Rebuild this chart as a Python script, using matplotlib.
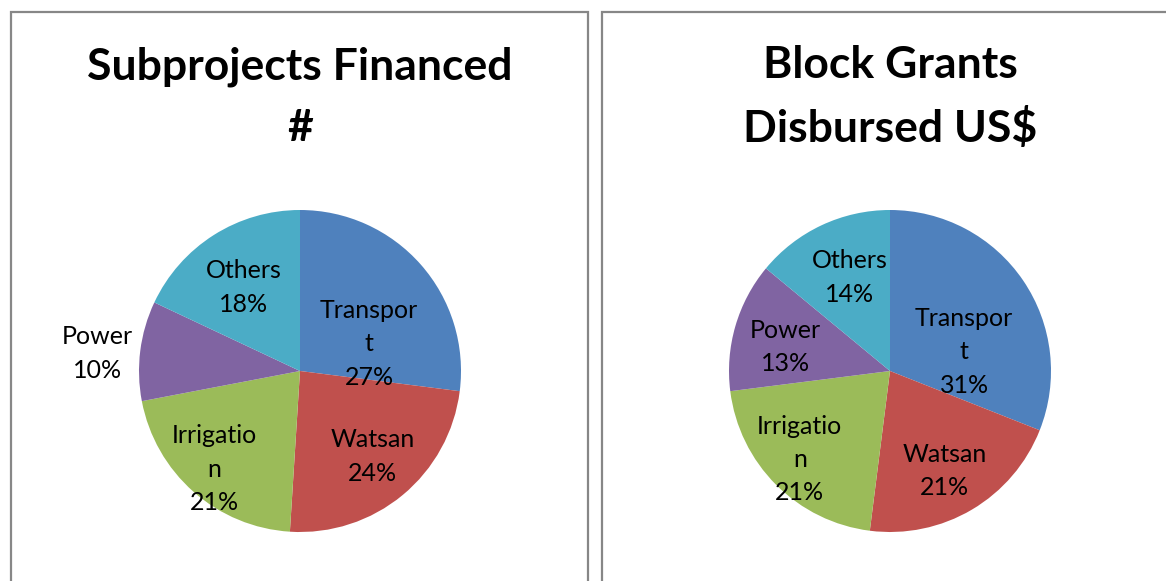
import matplotlib
matplotlib.use("Agg")
import matplotlib.pyplot as plt
from matplotlib.patches import Rectangle

plt.rcParams['font.family'] = ['Lato', 'DejaVu Sans']

# ---- data ----
categories = ["Transport", "Watsan", "Irrigation", "Power", "Others"]
subprojects_pct = [27, 24, 21, 10, 18]
grants_pct = [31, 21, 21, 13, 14]
subprojects_labels = ["Transpor\nt", "Watsan", "Irrigatio\nn", "Power", "Others"]
grants_labels = ["Transpor\nt", "Watsan", "Irrigatio\nn", "Power", "Others"]
titles = ["Subprojects Financed\n#", "Block Grants\nDisbursed US$"]

colors = ["#4F81BD", "#C0504D", "#9BBB59", "#8064A2", "#4BACC6"]

# label positions (in pie-radius units), styling only
pos1 = [(0.43, 0.17), (0.45, -0.53), (-0.53, -0.61), (-1.26, 0.11), (-0.35, 0.52)]
pos2 = [(0.46, 0.12), (0.34, -0.62), (-0.56, -0.55), (-0.65, 0.15), (-0.25, 0.58)]

W, H = 1166, 581
fig = plt.figure(figsize=(W / 100, H / 100), dpi=100)

# panel borders
border = "#878787"
fig.patches.append(Rectangle((10.5 / W, -0.1), 577 / W, 1.1 - 12.5 / H,
                             transform=fig.transFigure, fill=False,
                             edgecolor=border, linewidth=1.6))
fig.patches.append(Rectangle((601.5 / W, -0.1), 1.0, 1.1 - 12.5 / H,
                             transform=fig.transFigure, fill=False,
                             edgecolor=border, linewidth=1.6))

R = 161
panels = [
    (300, 371, subprojects_pct, subprojects_labels, pos1, titles[0]),
    (890, 371, grants_pct, grants_labels, pos2, titles[1]),
]
for cx, cy, vals, labs, pos, title in panels:
    ax = fig.add_axes([(cx - R) / W, (H - cy - R) / H, 2 * R / W, 2 * R / H])
    ax.pie(vals, colors=colors, startangle=90, counterclock=False, radius=1,
           wedgeprops=dict(linewidth=0))
    ax.set_xlim(-1, 1)
    ax.set_ylim(-1, 1)
    ax.set_aspect('auto')
    ax.axis('off')
    for v, lab, (x, y) in zip(vals, labs, pos):
        ax.text(x, y, f"{lab}\n{v}%", ha='center', va='center', fontsize=18,
                linespacing=1.55, color='black')
    fig.text(cx / W, 1 - 97 / H, title, ha='center', va='center',
             fontsize=32, fontweight='bold', linespacing=1.65)

fig.savefig("out.png", dpi=100, facecolor='white')
